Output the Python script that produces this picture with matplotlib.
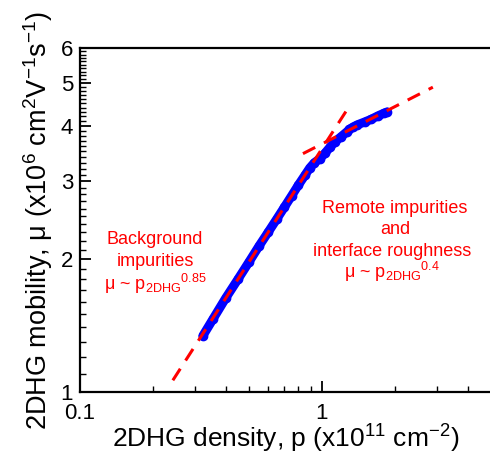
import numpy as np
import matplotlib
matplotlib.use("Agg")
import matplotlib.pyplot as plt
from matplotlib.ticker import FixedLocator, NullFormatter, LogLocator

plt.rcParams['font.family'] = ['Liberation Sans', 'DejaVu Sans']
plt.rcParams['mathtext.fontset'] = 'custom'
plt.rcParams['mathtext.rm'] = 'Liberation Sans'
plt.rcParams['mathtext.it'] = 'Liberation Sans:italic'
plt.rcParams['mathtext.default'] = 'regular'

# measured data (density in 1e11 cm^-2, mobility in 1e6 cm^2/Vs)
density = [0.322, 0.354, 0.40, 0.45, 0.50, 0.55, 0.60, 0.65, 0.70, 0.75, 0.80,
           0.85, 0.89, 0.93, 0.98, 1.03, 1.08, 1.13, 1.20, 1.27, 1.30, 1.35,
           1.40, 1.50, 1.60, 1.70, 1.80, 1.86]
mobility = [1.34, 1.46, 1.63, 1.80, 1.97, 2.14, 2.30, 2.46, 2.62, 2.78, 2.94,
            3.09, 3.21, 3.30, 3.37, 3.47, 3.58, 3.68, 3.78, 3.88, 3.93, 3.98,
            4.02, 4.08, 4.14, 4.21, 4.27, 4.30]

# power-law guide lines: prefactor, exponent, density range
bg_pref, bg_exp, bg_range = 3.55, 0.85, (0.242, 1.305)
rm_pref, rm_exp, rm_range = 3.64, 0.28, (0.835, 2.875)

x_ticks = [0.1, 1]
x_ticklabels = ['0.1', '1']
y_ticks = [1, 2, 3, 4, 5, 6]
y_ticklabels = ['1', '2', '3', '4', '5', '6']

fig = plt.figure(figsize=(4.9, 4.58), dpi=100)
ax = fig.add_axes([80/490, 66/458, 411/490, 344/458])
ax.set_xscale('log')
ax.set_yscale('log')
ax.set_xlim(0.1, 5.0)
ax.set_ylim(1, 6)

red = '#ff0000'
blue = '#0000ff'

for pref, ex, rng in [(bg_pref, bg_exp, bg_range), (rm_pref, rm_exp, rm_range)]:
    xs = np.array(rng)
    ax.plot(xs, pref * xs**ex, color=red, lw=2.2, dashes=(4.5, 3.2), zorder=3)

ax.plot(density, mobility, color=blue, lw=6.5, marker='o', ms=6,
        solid_capstyle='round', solid_joinstyle='round', zorder=2)

ax.xaxis.set_major_locator(FixedLocator(x_ticks))
ax.set_xticklabels(x_ticklabels)
ax.xaxis.set_minor_locator(LogLocator(base=10, subs=np.arange(2, 10)))
ax.xaxis.set_minor_formatter(NullFormatter())
ax.yaxis.set_major_locator(FixedLocator(y_ticks))
ax.set_yticklabels(y_ticklabels)
ax.yaxis.set_minor_locator(FixedLocator(np.round(np.arange(1.1, 6.0, 0.1), 2)))
ax.yaxis.set_minor_formatter(NullFormatter())

ax.tick_params(which='major', direction='in', length=8, width=1.3, labelsize=16,
               top=False, right=False)
ax.tick_params(axis='x', which='major', pad=8)
ax.tick_params(axis='y', which='major', pad=5)
ax.tick_params(which='minor', direction='in', length=4, width=1.0,
               top=False, right=False)
for s in ['left', 'bottom', 'top']:
    ax.spines[s].set_linewidth(1.6)
ax.spines['right'].set_visible(False)

ax.set_xlabel(r'2DHG density, p (x10$^{11}$ cm$^{-2}$)', fontsize=19, labelpad=-1)
ax.set_ylabel(r'2DHG mobility, μ (x10$^{6}$ cm$^{2}$V$^{-1}$s$^{-1}$)', fontsize=19.5, labelpad=4)

def fx(px):
    return (px - 80) / 411
def fy(py):
    return (392 - py) / 344

tk = dict(transform=ax.transAxes, color=red, fontsize=13, ha='center', va='center')
ax.text(fx(155), fy(239), 'Background', **tk)
ax.text(fx(155), fy(261), 'impurities', **tk)
ax.text(fx(155), fy(284), r'μ ~ ${\rm p_{2DHG}}^{0.85}$', **tk)
ax.text(fx(395), fy(208), 'Remote impurities', **tk)
ax.text(fx(395), fy(229), 'and', **tk)
ax.text(fx(392), fy(251), 'interface roughness', **tk)
ax.text(fx(392), fy(272), r'μ ~ ${\rm p_{2DHG}}^{0.4}$', **tk)

fig.savefig('out.png', dpi=100)
